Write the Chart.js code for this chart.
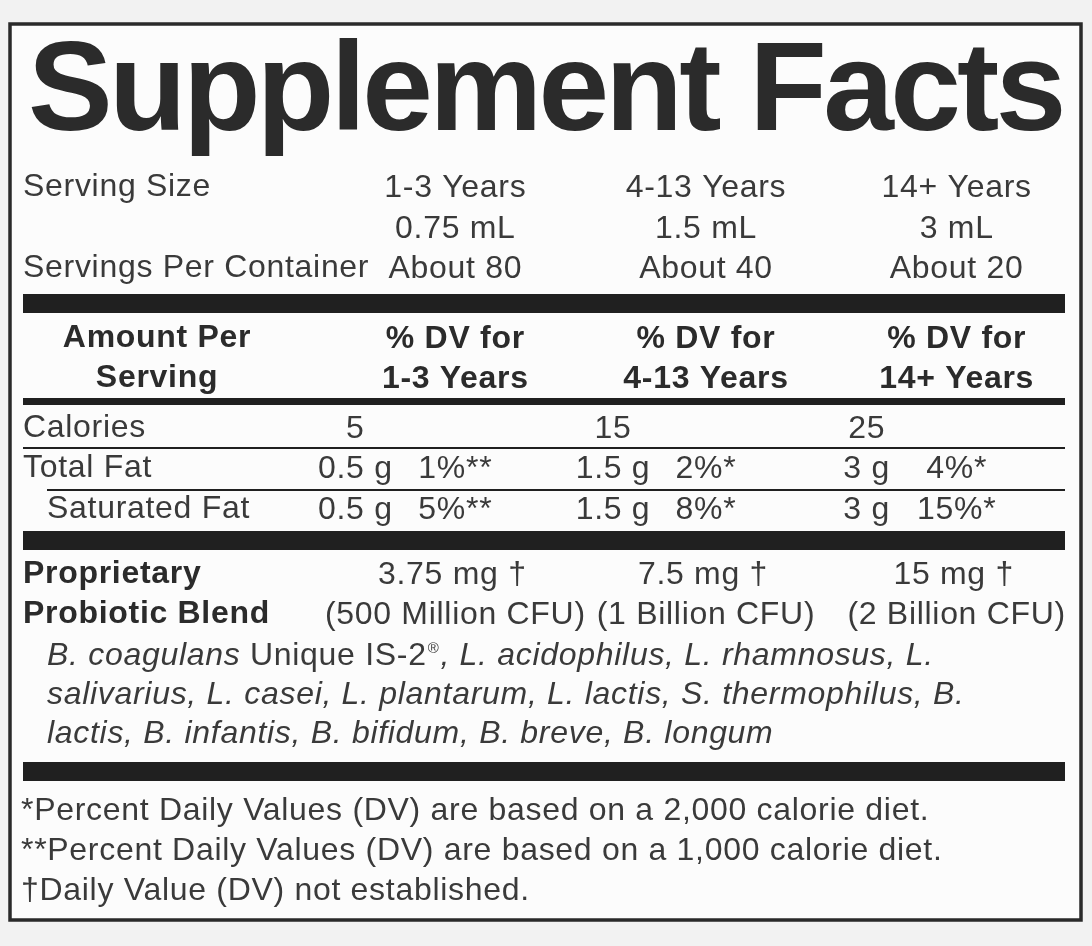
<!DOCTYPE html>
<html>
<head>
<meta charset="utf-8">
<script src="https://cdn.jsdelivr.net/npm/chart.js@4"></script>
<style>
  html, body { margin: 0; padding: 0; background: #f2f2f2; }
  #label { display: block; }
</style>
</head>
<body>
<canvas id="label" width="1092" height="946"></canvas>
<script>
// label data
const ageGroups = ['1-3 Years', '4-13 Years', '14+ Years'];
const servingSizes = ['0.75 mL', '1.5 mL', '3 mL'];
const servingsPerContainer = ['About 80', 'About 40', 'About 20'];
const calories = [5, 15, 25];
const totalFatGrams = [0.5, 1.5, 3];
const totalFatDV = [1, 2, 4];
const satFatGrams = [0.5, 1.5, 3];
const satFatDV = [5, 8, 15];
const dvMarks = ['**', '*', '*'];
const blendMg = [3.75, 7.5, 15];
const blendCFU = ['500 Million', '1 Billion', '2 Billion'];
const strainLines = [
  'B. coagulans Unique IS-2®, L. acidophilus, L. rhamnosus, L.',
  'salivarius, L. casei, L. plantarum, L. lactis, S. thermophilus, B.',
  'lactis, B. infantis, B. bifidum, B. breve, B. longum'
];
const footnotes = [
  '*Percent Daily Values (DV) are based on a 2,000 calorie diet.',
  '**Percent Daily Values (DV) are based on a 1,000 calorie diet.',
  '\u2020Daily Value (DV) not established.'
];

const FAM = '"Liberation Sans", Arial, sans-serif';
const INK = '#3a3a3a';
const DARK = '#2b2b2b';
const BAR = '#202020';

function txt(ctx, s, x, y, font, align, color, ls) {
  ctx.font = font;
  ctx.textAlign = align || 'left';
  ctx.textBaseline = 'alphabetic';
  ctx.fillStyle = color || INK;
  ctx.letterSpacing = ls || '0.7px';
  ctx.fillText(s, x, y);
  const w = ctx.measureText(s).width;
  ctx.letterSpacing = '0px';
  return w;
}

function strainLine(ctx, line, x, y) {
  const ital = 'italic 32px ' + FAM, reg = '32px ' + FAM;
  const tag = 'Unique IS-2';
  const i = line.indexOf(tag);
  if (i < 0) { txt(ctx, line, x, y, ital); return; }
  x += txt(ctx, line.slice(0, i), x, y, ital);
  x += txt(ctx, tag, x, y, reg);
  x += txt(ctx, '\u00AE', x + 1, y - 12, '15px ' + FAM) + 2;
  txt(ctx, line.slice(i + tag.length + 1), x, y, ital);
}

const labelPlugin = {
  id: 'supplementLabel',
  beforeDraw(chart) {
    const ctx = chart.ctx;
    ctx.save();
    ctx.fillStyle = '#f2f2f2';
    ctx.fillRect(0, 0, chart.width, chart.height);
    ctx.fillStyle = '#fcfcfc';
    ctx.fillRect(10, 24, 1071, 896);
    ctx.strokeStyle = '#2a2a2a';
    ctx.lineWidth = 3.5;
    ctx.strokeRect(10, 24, 1071, 896);
    ctx.restore();
  },
  afterDraw(chart) {
    const ctx = chart.ctx;
    const xs = chart.scales.x;
    const col = ageGroups.map((_, i) => xs.getPixelForValue(i));
    const amt = col.map((c, i) => c - [100, 93, 90][i]);
    const reg = '32px ' + FAM, bold = 'bold 32px ' + FAM;
    ctx.save();

    // title
    txt(ctx, 'Supplement Facts', 28, 130, 'bold 127px ' + FAM, 'left', DARK, '-3.7px');

    // serving info
    txt(ctx, 'Serving Size', 23, 196, reg);
    txt(ctx, 'Servings Per Container', 23, 277, reg);
    col.forEach((c, i) => {
      txt(ctx, ageGroups[i], c, 197, reg, 'center');
      txt(ctx, servingSizes[i], c, 238, reg, 'center');
      txt(ctx, servingsPerContainer[i], c, 278, reg, 'center');
    });

    const rule = (y, h, x0) => { ctx.fillStyle = BAR; ctx.fillRect(x0 || 23, y, 1065 - (x0 || 23), h); };
    rule(294, 19);

    // header
    txt(ctx, 'Amount Per', 157, 347, bold, 'center', DARK);
    txt(ctx, 'Serving', 157, 387, bold, 'center', DARK);
    col.forEach((c, i) => {
      txt(ctx, '% DV for', c, 348, bold, 'center', DARK);
      txt(ctx, ageGroups[i], c, 388, bold, 'center', DARK);
    });
    rule(398, 7);

    // nutrients
    txt(ctx, 'Calories', 23, 437, reg);
    calories.forEach((v, i) => txt(ctx, String(v), amt[i], 438, reg, 'center'));
    rule(447, 2);
    txt(ctx, 'Total Fat', 23, 477, reg);
    totalFatGrams.forEach((g, i) => {
      txt(ctx, g + ' g', amt[i], 478, reg, 'center');
      txt(ctx, totalFatDV[i] + '%' + dvMarks[i], col[i], 478, reg, 'center');
    });
    rule(489, 2, 47);
    txt(ctx, 'Saturated Fat', 47, 518, reg);
    satFatGrams.forEach((g, i) => {
      txt(ctx, g + ' g', amt[i], 519, reg, 'center');
      txt(ctx, satFatDV[i] + '%' + dvMarks[i], col[i], 519, reg, 'center');
    });
    rule(531, 19);

    // blend
    txt(ctx, 'Proprietary', 23, 583, bold, 'left', DARK);
    txt(ctx, 'Probiotic Blend', 23, 623, bold, 'left', DARK);
    col.forEach((c, i) => {
      txt(ctx, blendMg[i] + ' mg \u2020', c - 3, 584, reg, 'center');
      txt(ctx, '(' + blendCFU[i] + ' CFU)', c, 624, reg, 'center');
    });
    strainLines.forEach((l, i) => strainLine(ctx, l, 47, 665 + i * 39));
    rule(762, 19);

    footnotes.forEach((f, i) => txt(ctx, f, 21, 820 + i * 40, reg));
    ctx.restore();
  }
};

new Chart(document.getElementById('label'), {
  type: 'bar',
  data: { labels: ageGroups, datasets: [{ data: [], backgroundColor: BAR }] },
  options: {
    responsive: false,
    animation: false,
    devicePixelRatio: 1,
    layout: { padding: { left: 330, right: 10, top: 0, bottom: 0 } },
    plugins: { legend: { display: false }, tooltip: { enabled: false } },
    scales: { x: { display: false }, y: { display: false } }
  },
  plugins: [labelPlugin]
});
</script>
</body>
</html>
